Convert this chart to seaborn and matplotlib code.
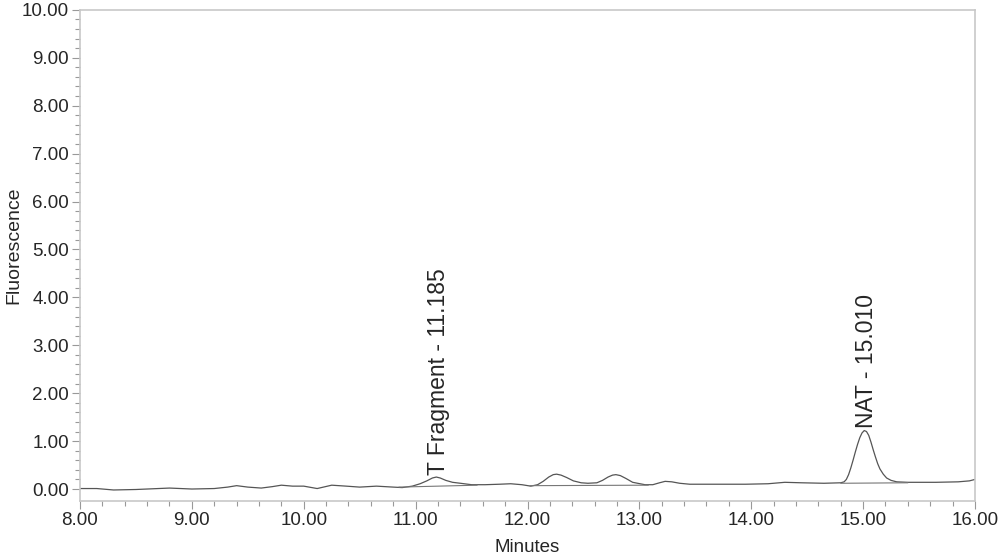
import numpy as np
import matplotlib
matplotlib.use("Agg")
import matplotlib.pyplot as plt
import pandas as pd
import seaborn as sns

# chromatogram trace (minutes, fluorescence)
minutes = [8.00, 8.15, 8.30, 8.50, 8.70, 8.80, 9.00, 9.20, 9.32, 9.40, 9.50, 9.62,
           9.72, 9.80, 9.90, 10.00, 10.12, 10.25, 10.38, 10.50, 10.65, 10.80, 10.88,
           10.97, 11.04, 11.10, 11.15, 11.185, 11.22, 11.27, 11.33, 11.40, 11.50,
           11.62, 11.75, 11.85, 11.95, 12.03, 12.09, 12.14, 12.19, 12.23, 12.26,
           12.30, 12.35, 12.41, 12.48, 12.54, 12.62, 12.67, 12.72, 12.76, 12.79,
           12.83, 12.88, 12.94, 13.05, 13.12, 13.18, 13.23, 13.29, 13.36, 13.45,
           13.70, 13.95, 14.15, 14.30, 14.45, 14.65, 14.80, 14.83, 14.85, 14.87,
           14.89, 14.91, 14.93, 14.95, 14.97, 14.99, 15.01, 15.03, 15.05, 15.07,
           15.09, 15.11, 15.13, 15.15, 15.18, 15.21, 15.25, 15.30, 15.40, 15.65,
           15.85, 15.95, 16.00]
fluor = [0.01, 0.01, -0.02, -0.01, 0.01, 0.02, 0.00, 0.01, 0.04, 0.07, 0.04, 0.02,
         0.05, 0.08, 0.06, 0.06, 0.01, 0.08, 0.06, 0.04, 0.06, 0.04, 0.03,
         0.06, 0.11, 0.17, 0.23, 0.25, 0.23, 0.18, 0.14, 0.12, 0.09,
         0.09, 0.10, 0.11, 0.09, 0.06, 0.09, 0.16, 0.25, 0.30, 0.31,
         0.29, 0.24, 0.17, 0.13, 0.12, 0.13, 0.18, 0.25, 0.29, 0.30,
         0.28, 0.22, 0.14, 0.09, 0.09, 0.13, 0.16, 0.15, 0.12, 0.10,
         0.10, 0.10, 0.11, 0.14, 0.13, 0.12, 0.13, 0.15, 0.20, 0.30,
         0.44, 0.60, 0.77, 0.93, 1.07, 1.17, 1.22, 1.20, 1.12, 0.98,
         0.82, 0.67, 0.53, 0.42, 0.31, 0.23, 0.18, 0.15, 0.14, 0.14,
         0.15, 0.17, 0.20]

# integration baselines (start, end)
base_t0 = [10.85, 12.02, 14.80]
base_t1 = [11.55, 13.08, 15.40]
base_y0 = [0.04, 0.07, 0.12]
base_y1 = [0.08, 0.08, 0.13]

# peak labels
peak_names = ["T Fragment - 11.185", "NAT - 15.010"]
peak_t = [11.185, 15.010]
peak_y = [0.25, 1.22]

sns.set_style("ticks")
plt.rcParams['font.family'] = ['Liberation Sans', 'DejaVu Sans']

df = pd.DataFrame({'Minutes': minutes, 'Fluorescence': fluor})

fig = plt.figure(figsize=(10, 5.55), dpi=100)
ax = fig.add_axes([0.08, 0.0973, 0.895, 0.885])

sns.lineplot(data=df, x='Minutes', y='Fluorescence', ax=ax, color='#555555',
             linewidth=0.9, estimator=None, sort=False)

for t0, t1, y0, y1 in zip(base_t0, base_t1, base_y0, base_y1):
    ax.plot([t0, t1], [y0, y1], color='#777777', linewidth=0.8)

for name, t, y in zip(peak_names, peak_t, peak_y):
    ax.text(t + 0.02, y + 0.05, name, rotation=90, ha='center', va='bottom',
            fontsize=16.5)

ax.set_xlim(8, 16)
ax.set_ylim(-0.25, 10)
ax.set_xticks(np.arange(8, 16.01, 1))
ax.set_xticks(np.arange(8, 16.01, 0.2), minor=True)
ax.set_yticks(np.arange(0, 10.01, 1))
ax.set_yticks(np.arange(0, 10.01, 0.2), minor=True)
ax.set_xticklabels([f"{v:.2f}" for v in np.arange(8, 16.01, 1)])
ax.set_yticklabels([f"{v:.2f}" for v in np.arange(0, 10.01, 1)])
ax.tick_params(axis='both', which='major', length=6, width=0.8, color='#999999',
               labelsize=13.5, pad=2)
ax.tick_params(axis='both', which='minor', length=3.5, width=0.8, color='#999999')

for s in ax.spines.values():
    s.set_visible(True)
    s.set_color('#c8c8c8')
    s.set_linewidth(1.2)

ax.set_xlabel('Minutes', fontsize=13.5, labelpad=7)
ax.set_ylabel('Fluorescence', fontsize=14)
ax.yaxis.set_label_coords(-0.064, 0.52)

fig.savefig('out.png', dpi=100)
